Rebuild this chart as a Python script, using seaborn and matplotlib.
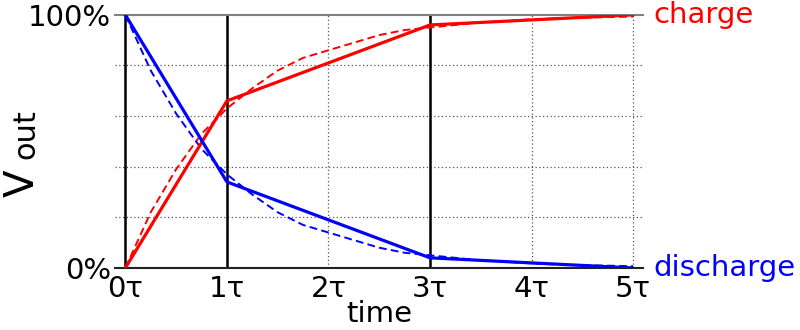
import matplotlib
matplotlib.use("Agg")
import matplotlib.pyplot as plt
import seaborn as sns
import pandas as pd

# piecewise (solid) approximations
seg_t = [0, 1, 3, 5]
seg_charge = [0, 66, 96, 100]
seg_discharge = [100, 34, 4, 0]

# exact curves (dashed)
curve_t = [0, 0.25, 0.5, 0.75, 1, 1.25, 1.5, 1.75, 2, 2.25, 2.5, 2.75, 3,
           3.25, 3.5, 3.75, 4, 4.25, 4.5, 4.75, 5]
curve_charge = [0, 22, 39, 53, 63, 71, 78, 83, 86, 89, 92, 94, 95,
                96, 97, 97.6, 98.2, 98.6, 98.9, 99.1, 99.3]
curve_discharge = [100, 78, 61, 47, 37, 29, 22, 17, 14, 11, 8, 6, 5,
                   4, 3, 2.4, 1.8, 1.4, 1.1, 0.9, 0.7]

x_ticks = [0, 1, 2, 3, 4, 5]
x_labels = ["0τ", "1τ", "2τ", "3τ", "4τ", "5τ"]
y_ticks = [0, 100]
y_labels = ["0%", "100%"]
y_grid = [20, 40, 60, 80]
marker_lines = [0, 1, 3]

sns.set_style("white")
plt.rcParams["font.family"] = ["DejaVu Sans"]

fig = plt.figure(figsize=(8, 3.3), dpi=100)
ax = fig.add_axes([0.144, 0.188, 0.66, 0.767])

seg = pd.DataFrame({"t": seg_t, "charge": seg_charge, "discharge": seg_discharge})
cur = pd.DataFrame({"t": curve_t, "charge": curve_charge, "discharge": curve_discharge})

# grid
ax.set_xticks(x_ticks)
ax.set_yticks(y_ticks)
ax.set_yticks(y_grid, minor=True)
ax.grid(True, which="major", axis="x", color="#555555", linestyle=(0, (1, 2)), linewidth=0.9)
ax.grid(True, which="minor", axis="y", color="#555555", linestyle=(0, (1, 2)), linewidth=0.9)
ax.grid(False, which="major", axis="y")

for xv in marker_lines:
    ax.axvline(xv, color="black", linewidth=1.8, zorder=2)

dash = (0, (4, 2.2))
sns.lineplot(data=cur, x="t", y="charge", ax=ax, color="red", linewidth=1.4,
             linestyle=dash, zorder=3)
sns.lineplot(data=cur, x="t", y="discharge", ax=ax, color="blue", linewidth=1.4,
             linestyle=dash, zorder=3)
sns.lineplot(data=seg, x="t", y="charge", ax=ax, color="red", linewidth=2.3, zorder=4)
sns.lineplot(data=seg, x="t", y="discharge", ax=ax, color="blue", linewidth=2.3, zorder=4)

ax.set_xlim(-0.1, 5.1)
ax.set_ylim(0, 100)
ax.set_xticklabels(x_labels, fontsize=21, color="black")
ax.set_yticklabels(y_labels, fontsize=21, color="black")
ax.tick_params(axis="x", which="both", length=0, pad=5)
ax.tick_params(axis="y", which="both", length=0, pad=3)

for s in ["left", "right"]:
    ax.spines[s].set_visible(False)
ax.spines["top"].set_color("#808080")
ax.spines["top"].set_linewidth(1.5)
ax.spines["bottom"].set_color("#222222")
ax.spines["bottom"].set_linewidth(1.5)

ax.set_xlabel("time", fontsize=21, color="black", labelpad=-2)
ax.set_ylabel("")

# y label "Vout": big V and smaller "out" on the same baseline, rotated
fig.text(34 / 800, 1 - 197 / 330, "V", fontsize=29, rotation=90,
         rotation_mode="anchor", ha="left", va="baseline", color="black")
fig.text(34 / 800, 1 - 159 / 330, "out", fontsize=22, rotation=90,
         rotation_mode="anchor", ha="left", va="baseline", color="black")

ax.text(1.02, 1.0, "charge", transform=ax.transAxes, color="red", fontsize=21,
        ha="left", va="center")
ax.text(1.02, 0.0, "discharge", transform=ax.transAxes, color="blue", fontsize=21,
        ha="left", va="center")

fig.savefig("out.png", dpi=100)
